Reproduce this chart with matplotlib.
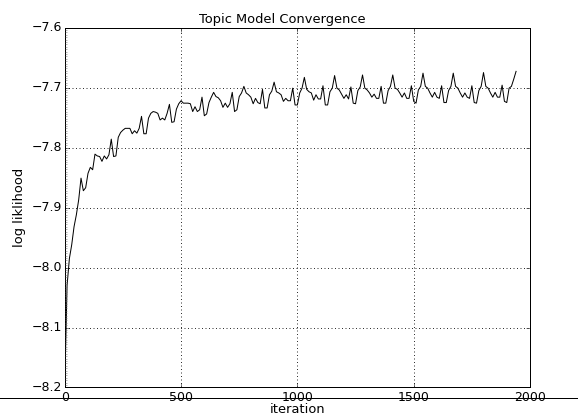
import numpy as np
import matplotlib
matplotlib.use("Agg")
import matplotlib.pyplot as plt
from matplotlib.lines import Line2D
from matplotlib.ticker import MultipleLocator

# log likelihood sampled every 10 iterations
iterations = list(range(0, 1950, 10))
loglik = [
    -8.200, -8.030, -7.985, -7.962, -7.932, -7.912, -7.887, -7.851, -7.872, -7.867,
    -7.843, -7.833, -7.837, -7.811, -7.814, -7.815, -7.823, -7.814, -7.819, -7.812,
    -7.786, -7.815, -7.814, -7.783, -7.775, -7.771, -7.768, -7.768, -7.768, -7.777,
    -7.772, -7.776, -7.768, -7.748, -7.777, -7.777, -7.751, -7.743, -7.740, -7.741,
    -7.743, -7.754, -7.751, -7.754, -7.743, -7.728, -7.758, -7.757, -7.736, -7.727,
    -7.722, -7.726, -7.726, -7.726, -7.727, -7.740, -7.732, -7.740, -7.737, -7.716,
    -7.747, -7.744, -7.725, -7.716, -7.708, -7.715, -7.717, -7.722, -7.733, -7.726,
    -7.733, -7.727, -7.708, -7.740, -7.737, -7.715, -7.709, -7.698, -7.709, -7.712,
    -7.716, -7.727, -7.718, -7.725, -7.727, -7.703, -7.734, -7.734, -7.712, -7.706,
    -7.691, -7.707, -7.709, -7.712, -7.723, -7.718, -7.722, -7.722, -7.701, -7.729,
    -7.729, -7.709, -7.701, -7.683, -7.703, -7.707, -7.709, -7.721, -7.712, -7.719,
    -7.719, -7.697, -7.729, -7.729, -7.707, -7.701, -7.680, -7.701, -7.704, -7.711,
    -7.718, -7.712, -7.719, -7.699, -7.726, -7.727, -7.705, -7.699, -7.679, -7.701,
    -7.704, -7.709, -7.716, -7.711, -7.718, -7.718, -7.698, -7.726, -7.726, -7.705,
    -7.698, -7.679, -7.701, -7.703, -7.709, -7.716, -7.709, -7.718, -7.718, -7.697,
    -7.723, -7.726, -7.704, -7.698, -7.676, -7.698, -7.701, -7.709, -7.716, -7.708,
    -7.716, -7.718, -7.697, -7.725, -7.725, -7.705, -7.698, -7.676, -7.698, -7.701,
    -7.709, -7.716, -7.709, -7.716, -7.718, -7.697, -7.725, -7.726, -7.705, -7.698,
    -7.675, -7.698, -7.701, -7.709, -7.716, -7.708, -7.716, -7.716, -7.696, -7.723,
    -7.725, -7.701, -7.698, -7.686, -7.673,
]

plt.style.use("classic")
plt.rcParams["font.size"] = 12

fig = plt.figure(figsize=(578 / 72, 419 / 72), dpi=72, facecolor="white")
ax = fig.add_axes([0.112, 0.0752, 0.805, 0.859])

ax.plot(iterations, loglik, color="black", linewidth=1.0)

ax.set_xlim(0, 2000)
ax.set_ylim(-8.2, -7.6)
ax.set_xticks([0, 500, 1000, 1500, 2000])
ax.yaxis.set_minor_locator(MultipleLocator(0.004))
ax.tick_params(axis="y", which="minor", right=False, length=2, color="0.4")
ax.tick_params(axis="y", which="major", pad=3)
ax.tick_params(axis="both", which="major", labelsize=12.5)
ax.grid(True, color="black", linestyle=(0, (1, 2.5)), linewidth=0.8)

title = ax.set_title("Topic Model Convergence", fontsize=13)
title.set_x(0.467)
ax.set_xlabel("iteration", fontsize=13, labelpad=-1)
ax.set_ylabel("log liklihood", fontsize=13)

# stray horizontal rule across the whole figure
fig.add_artist(Line2D([0, 1], [1 - 398 / 419, 1 - 398 / 419],
                      transform=fig.transFigure, color="black", linewidth=1.0))

fig.savefig("out.png", dpi=72, facecolor="white")
